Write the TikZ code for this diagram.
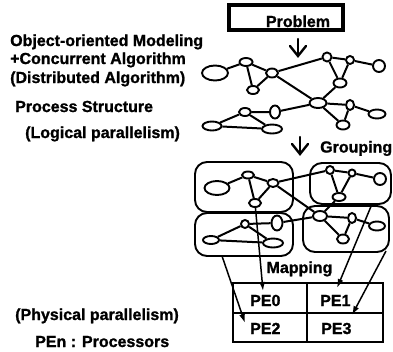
\documentclass[tikz,border=0pt]{standalone}
\usepackage{fontspec}
\setmainfont{Liberation Sans}[BoldFeatures={FakeBold=1.2}]
\usetikzlibrary{shapes.geometric,arrows.meta}
\begin{document}
\begin{tikzpicture}[x=1pt,y=-1pt,
  nd/.style={draw, ellipse, line width=1.9pt, inner sep=0pt, fill=white},
  ed/.style={line width=2pt},
  grp/.style={draw, rectangle, rounded corners=12pt, line width=1.9pt, inner sep=0pt},
  lbl/.style={font=\fontsize{16}{18}\selectfont\bfseries, inner sep=0pt, anchor=base west},
  cell/.style={draw, rectangle, line width=1.4pt, inner sep=0pt},
  maparr/.style={line width=1.5pt, -{Latex[length=9pt,width=6pt]}},
  openarr/.style={line width=2.4pt, line cap=round, line join=miter}
]
\useasboundingbox (0,0) rectangle (393,351);

% left texts
\node[lbl] (t1) at (10,46) {Object-oriented Modeling};
\node[lbl] (t2) at (10,64) {+Concurrent Algorithm};
\node[lbl] (t3) at (10,83) {(Distributed Algorithm)};
\node[lbl] (t4) at (15,112) {Process Structure};
\node[lbl] (t5) at (25,138) {(Logical parallelism)};
\node[lbl] (t6) at (15,320) {(Physical parallelism)};
\node[lbl] (t7) at (35,347) {PEn : Processors};

% Problem box
\node[draw, rectangle, line width=3.8pt, minimum width=114pt, minimum height=25pt, inner sep=0pt] (prob) at (286,17.5) {};
\node[lbl, anchor=base] (probt) at (298,27) {Problem};
\coordinate (pa1) at (298,39);
\coordinate (pa2) at (298,56);
\coordinate (pl1) at (290,46);
\coordinate (pr1) at (306,46);
\draw[openarr] (pa1) -- (pa2);
\draw[openarr] (pl1) -- (pa2) -- (pr1);

% upper graph
\node[nd, minimum width=26pt, minimum height=15pt] (A) at (215,73) {};
\node[nd, minimum width=13pt, minimum height=8pt] (B) at (246,62) {};
\node[nd, minimum width=12pt, minimum height=8pt] (C) at (253,90) {};
\node[nd, minimum width=12pt, minimum height=9pt] (D) at (272,73) {};
\node[nd, minimum width=9pt, minimum height=9pt] (E) at (327,57) {};
\node[nd, minimum width=8pt, minimum height=8pt] (F) at (350,60) {};
\node[nd, minimum width=13pt, minimum height=9pt] (G) at (340,83) {};
\node[nd, minimum width=12pt, minimum height=12pt] (H) at (379,66) {};
\node[nd, minimum width=17pt, minimum height=10pt] (I) at (318,103) {};
\node[nd, minimum width=8pt, minimum height=10pt] (J) at (350,105) {};
\node[nd, minimum width=17pt, minimum height=9pt] (K) at (377,114) {};
\node[nd, minimum width=13pt, minimum height=9pt] (L) at (343,125) {};
\node[nd, minimum width=10pt, minimum height=13pt] (M) at (275,112) {};
\node[nd, minimum width=12pt, minimum height=8pt] (N) at (245,112) {};
\node[nd, minimum width=19pt, minimum height=9pt] (O) at (212,126) {};
\node[nd, minimum width=20pt, minimum height=9pt] (P) at (272,129) {};
\draw[ed] (A)--(B) (B)--(D) (B)--(C) (C)--(D) (D)--(E) (D)--(I)
  (E)--(F) (E)--(G) (F)--(G) (F)--(H) (G)--(I)
  (I)--(J) (I)--(L) (J)--(L) (J)--(K) (I)--(M) (M)--(N) (N)--(O) (N)--(P) (O)--(P);

% grouping arrow
\coordinate (ga1) at (300,137);
\coordinate (ga2) at (300,154);
\coordinate (gl1) at (292,144);
\coordinate (gr1) at (308,144);
\draw[openarr] (ga1) -- (ga2);
\draw[openarr] (gl1) -- (ga2) -- (gr1);
\node[lbl] (grt) at (320,152.5) {Grouping};

% groups
\node[grp, minimum width=98pt, minimum height=50pt] (gTL) at (244,187) {};
\node[grp, minimum width=81pt, minimum height=41pt] (gTR) at (350.5,183.5) {};
\node[grp, minimum width=98pt, minimum height=43pt] (gBL) at (244,234.5) {};
\node[grp, minimum width=86pt, minimum height=46pt] (gBR) at (346,229) {};

% grouped graph
\node[nd, minimum width=25pt, minimum height=14pt] (ga) at (217,188) {};
\node[nd, minimum width=12pt, minimum height=7pt] (gb) at (248,175) {};
\node[nd, minimum width=12pt, minimum height=8pt] (gc) at (255,203) {};
\node[nd, minimum width=11pt, minimum height=8pt] (gd) at (273,183) {};
\node[nd, minimum width=8pt, minimum height=8pt] (ge) at (330,170) {};
\node[nd, minimum width=7pt, minimum height=7pt] (gf) at (352,173) {};
\node[nd, minimum width=13pt, minimum height=8pt] (gg) at (339,197) {};
\node[nd, minimum width=12pt, minimum height=12pt] (gh) at (380,179) {};
\node[nd, minimum width=8pt, minimum height=8pt] (gn) at (245,224) {};
\node[nd, minimum width=11pt, minimum height=15pt] (gm) at (277,223) {};
\node[nd, minimum width=16pt, minimum height=8pt] (go) at (211,240) {};
\node[nd, minimum width=20pt, minimum height=9pt] (gp) at (273,243) {};
\node[nd, minimum width=14pt, minimum height=10pt] (gI) at (320,216) {};
\node[nd, minimum width=8pt, minimum height=10pt] (gJ) at (352,218) {};
\node[nd, minimum width=16pt, minimum height=9pt] (gK) at (377,226) {};
\node[nd, minimum width=12pt, minimum height=9pt] (gL) at (343,239) {};
\draw[ed] (ga)--(gb) (gb)--(gd) (gb)--(gc) (gc)--(gd) (gd)--(ge) (gd)--(gI)
  (ge)--(gf) (ge)--(gg) (gf)--(gg) (gf)--(gh) (gg)--(gI)
  (gI)--(gJ) (gI)--(gL) (gJ)--(gL) (gJ)--(gK) (gI)--(gm) (gm)--(gn) (gn)--(go) (gn)--(gp) (go)--(gp);

% PE table
\node[cell, minimum width=74pt, minimum height=30pt] (pe0) at (270,298) {};
\node[cell, minimum width=76pt, minimum height=30pt] (pe1) at (345,298) {};
\node[cell, minimum width=74pt, minimum height=29pt] (pe2) at (270,327.5) {};
\node[cell, minimum width=76pt, minimum height=29pt] (pe3) at (345,327.5) {};
\node[lbl] (pe0t) at (250,306) {PE0};
\node[lbl] (pe1t) at (320,306) {PE1};
\node[lbl] (pe2t) at (250,334) {PE2};
\node[lbl] (pe3t) at (321,334) {PE3};
\node[lbl, anchor=base] (mapt) at (299.5,273) {Mapping};

% mapping arrows
\coordinate (s2) at (222,256);
\coordinate (s3) at (372,204);
\coordinate (s4) at (386,251);
\coordinate (t0) at (263,291);
\coordinate (t1a) at (337,288);
\coordinate (t2a) at (245,323);
\coordinate (t3a) at (352,315);
\draw[maparr] (gc) -- (t0);
\draw[maparr] (s2) -- (t2a);
\draw[maparr] (s3) -- (t1a);
\draw[maparr] (s4) -- (t3a);
\end{tikzpicture}
\end{document}
